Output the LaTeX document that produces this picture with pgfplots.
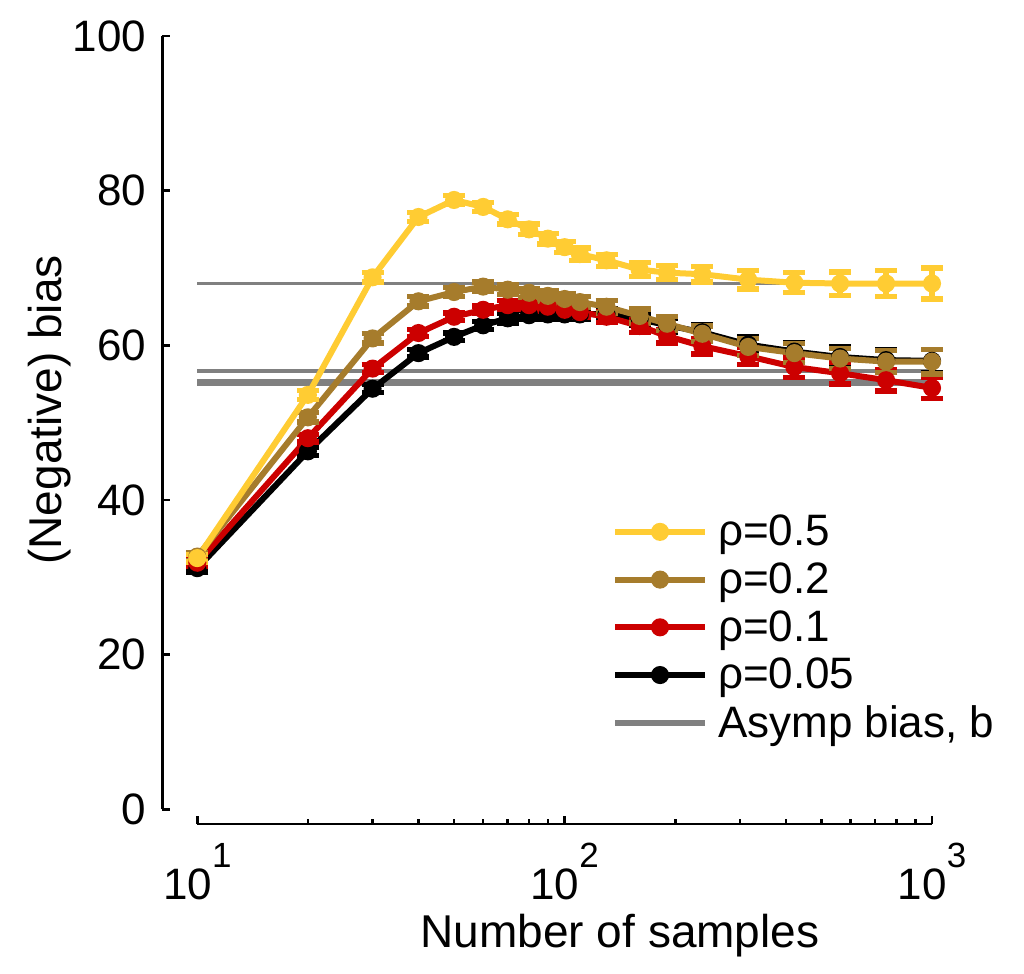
\documentclass[border=0pt]{standalone}
\usepackage{fontspec}
\setmainfont{Liberation Sans}
\usepackage{pgfplots}
\usepackage{pgfplotstable}
\pgfplotsset{compat=1.18}

\definecolor{cYel}{RGB}{255,204,51}
\definecolor{cBrn}{RGB}{166,124,44}
\definecolor{cRed}{RGB}{204,0,0}
\definecolor{cGry}{RGB}{128,128,128}

\pgfplotstableread{
x y e
10 31.2 0.5
20 46.3 0.5
30 54.4 0.5
40 59.0 0.5
50 61.1 0.5
60 62.6 0.5
70 63.5 0.6
80 63.9 0.6
90 64.0 0.6
100 64.0 0.6
110 64.0 0.7
130 64.1 0.7
160 63.4 0.8
190 62.6 0.9
237 61.7 1.0
316 60.1 1.1
422 59.2 1.2
562 58.5 1.3
750 58.1 1.4
1000 58.0 1.5
}\tblack
\pgfplotstableread{
x y e
10 31.9 0.5
20 48.0 0.5
30 57.0 0.5
40 61.6 0.5
50 63.7 0.5
60 64.6 0.5
70 65.2 0.6
80 65.2 0.6
90 65.0 0.6
100 64.6 0.6
110 64.3 0.7
130 63.7 0.7
160 62.5 0.8
190 61.2 0.9
237 59.9 1.0
316 58.6 1.1
422 57.2 1.3
562 56.4 1.4
750 55.5 1.4
1000 54.5 1.4
}\tred
\pgfplotstableread{
x y e
10 32.7 0.5
20 50.7 0.6
30 60.9 0.6
40 65.7 0.6
50 66.9 0.6
60 67.6 0.6
70 67.2 0.6
80 66.8 0.6
90 66.4 0.7
100 66.0 0.7
110 65.6 0.7
130 65.0 0.8
160 63.8 0.9
190 62.8 0.9
237 61.5 1.0
316 59.8 1.1
422 59.0 1.2
562 58.3 1.3
750 57.9 1.4
1000 57.9 1.6
}\tbrown
\pgfplotstableread{
x y e
10 32.5 0.5
20 53.6 0.6
30 68.8 0.6
40 76.6 0.6
50 78.8 0.6
60 77.9 0.6
70 76.3 0.6
80 75.0 0.7
90 73.8 0.7
100 72.7 0.7
110 71.8 0.8
130 71.0 0.8
160 69.8 0.9
190 69.4 0.9
237 69.2 1.0
316 68.5 1.2
422 68.1 1.3
562 68.0 1.5
750 68.0 1.7
1000 68.0 2.0
}\tyellow

\newcommand{\tl}[1]{10\raisebox{15.8pt}{\fontsize{17.5}{17.5}\selectfont #1}}

\begin{document}
\begin{tikzpicture}
\useasboundingbox (-98.65pt,-82.25pt) rectangle (413.35pt,404.75pt);
\begin{axis}[
  at={(0pt,0pt)}, anchor=south west,
  scale only axis, width=367.35pt, height=386.75pt,
  xmode=log, xmin=10, xmax=1000, ymin=0, ymax=100,
  clip=false,
  axis x line*=bottom, axis y line*=left,
  axis x line shift=7.25pt, axis y line shift=17.5pt,
  axis line style={line width=1.3pt, black},
  tick style={line width=1.3pt, black},
  tick align=inside,
  major tick length=4pt, minor tick length=2.5pt,
  xtick={10,100,1000}, xticklabels={\tl{1},\tl{2},\tl{3}},
  ytick={0,20,40,60,80,100}, yticklabels={0,20,40,60,80,100},
  ticklabel style={font=\fontsize{22}{22}\selectfont},
  xticklabel style={anchor=north, inner sep=0pt, yshift=-9.5pt},
  yticklabel style={anchor=east, inner sep=0pt, xshift=-7.8pt},
  xlabel={Number of samples},
  ylabel={(Negative) bias},
  label style={font=\fontsize{23}{23}\selectfont, inner sep=0pt},
  xlabel style={at={(axis description cs:0.5753,-0.1778)}, anchor=base},
  ylabel style={at={(axis description cs:-0.1842,0.5165)}, anchor=base},
  legend style={draw=none, fill=none, at={(axis description cs:0.5645,0.3807)}, anchor=north west,
    inner sep=0pt, outer sep=0pt, row sep=7pt,
    font=\fontsize{22}{22}\selectfont,
    nodes={inner sep=0pt},
    /tikz/every odd column/.append style={column sep=5pt}},
  legend cell align=left,
  reverse legend,
  legend image code/.code={\draw[#1, mark repeat=2, mark phase=2] plot coordinates {(0pt,0pt) (22.5pt,0pt) (45pt,0pt)};},
  every axis plot/.append style={line width=3pt, mark=*, mark size=3pt, mark options={solid}},
]
\addplot[cGry, line width=1.6pt, mark=none, forget plot] coordinates {(10,68.0) (1000,68.0)};
\addplot[cGry, line width=1.6pt, mark=none, forget plot] coordinates {(10,56.7) (1000,56.7)};
\addplot[cGry, line width=1.6pt, mark=none, forget plot] coordinates {(10,55.4) (1000,55.4)};
\addplot[cGry, line width=1.6pt, mark=none, forget plot] coordinates {(10,55.0) (1000,55.0)};
\addlegendimage{cGry, line width=3pt, mark=none}
\addlegendentry{Asymp bias, b}
\addplot[black, error bars/.cd, y dir=both, y explicit, error bar style={line width=2.6pt}, error mark options={rotate=90, mark size=5.5pt, line width=2.6pt}] table[x=x, y=y, y error=e] {\tblack};
\addlegendentry{ρ=0.05}
\addplot[cRed, error bars/.cd, y dir=both, y explicit, error bar style={line width=2.6pt}, error mark options={rotate=90, mark size=5.5pt, line width=2.6pt}] table[x=x, y=y, y error=e] {\tred};
\addlegendentry{ρ=0.1}
\addplot[cBrn, error bars/.cd, y dir=both, y explicit, error bar style={line width=2.6pt}, error mark options={rotate=90, mark size=5.5pt, line width=2.6pt}] table[x=x, y=y, y error=e] {\tbrown};
\addlegendentry{ρ=0.2}
\addplot[cYel, error bars/.cd, y dir=both, y explicit, error bar style={line width=2.6pt}, error mark options={rotate=90, mark size=5.5pt, line width=2.6pt}] table[x=x, y=y, y error=e] {\tyellow};
\addlegendentry{ρ=0.5}
\end{axis}
\end{tikzpicture}
\end{document}
